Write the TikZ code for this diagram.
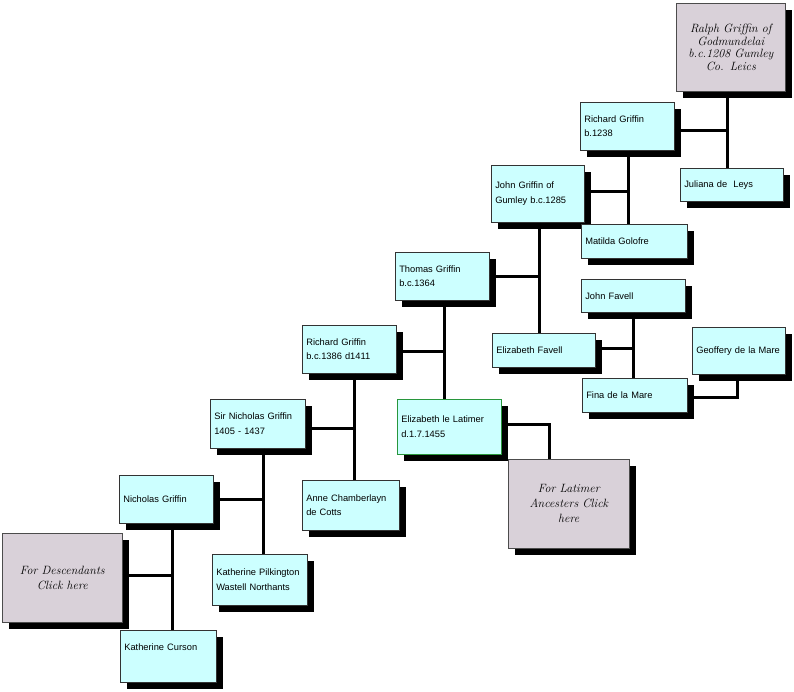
\documentclass[tikz,border=0pt]{standalone}
\usepackage{fontspec}
\usepackage{xcolor}
\usetikzlibrary{shadows}
\newfontfamily\boxfont{Liberation Sans}

\definecolor{boxcyan}{RGB}{204,255,255}
\definecolor{boxgrey}{RGB}{217,209,217}
\definecolor{latgreen}{RGB}{40,150,60}

\tikzset{
  person/.style={draw=black!80, line width=0.6pt, fill=boxcyan, anchor=north west,
    align=left, inner xsep=4pt, font=\boxfont\fontsize{9.3}{14.5}\selectfont,
    text width=#1, drop shadow={shadow xshift=7pt, shadow yshift=-7pt, fill=black, opacity=1}},
  linkbox/.style={draw=black!70, line width=0.6pt, fill=boxgrey, anchor=north west,
    align=center, inner xsep=2pt, font=\itshape\fontsize{12}{15}\selectfont,
    text width=#1, drop shadow={shadow xshift=7pt, shadow yshift=-7pt, fill=black, opacity=1}},
  famline/.style={line width=3pt}
}

\begin{document}
\begin{tikzpicture}[x=1pt, y=-1pt]
\useasboundingbox (0,0) rectangle (794,692);

 %boxes:
 \node[linkbox=104pt, minimum width=109pt, minimum height=88pt] (ralph) at (676,3)
   {Ralph Griffin of\\[-2.5pt] Godmundelai\\[-2.5pt] b.c.1208 Gumley\\[-2.5pt] Co. Leics};
 \node[person=86pt, minimum width=94pt, minimum height=48pt] (richardA) at (580,102) {Richard Griffin\\ b.1238};
 \node[person=95pt, minimum width=103pt, minimum height=33pt] (juliana) at (680,168) {Juliana de\ \ Leys};
 \node[person=85pt, minimum width=93pt, minimum height=57pt] (john) at (491,165) {John Griffin of\\ Gumley\ b.c.1285};
 \node[person=98pt, minimum width=106pt, minimum height=34pt] (matilda) at (581,224) {Matilda Golofre};
 \node[person=86pt, minimum width=94pt, minimum height=48pt] (thomas) at (395,252) {Thomas Griffin\\ b.c.1364};
 \node[person=95pt, minimum width=103pt, minimum height=34pt] (elizfavell) at (492,333) {Elizabeth Favell};
 \node[person=96pt, minimum width=104pt, minimum height=33pt] (johnfavell) at (581,279) {John Favell};
 \node[person=97pt, minimum width=105pt, minimum height=34pt] (fina) at (582,378) {Fina de la Mare};
 \node[person=85pt, minimum width=93pt, minimum height=47pt] (geoffery) at (692,327) {Geoffery de la Mare};
 \node[person=86pt, minimum width=94pt, minimum height=48pt] (richardB) at (302,325) {Richard Griffin\\ b.c.1386 d1411};
 \node[person=96pt, minimum width=104pt, minimum height=55pt, draw=latgreen] (latimer) at (397,399) {Elizabeth le Latimer\\ d.1.7.1455};
 \node[linkbox=115pt, minimum width=121pt, minimum height=89pt] (latlink) at (508,459)
   {For Latimer\\ Ancesters Click\\ here};
 \node[person=87pt, minimum width=95pt, minimum height=49pt] (sirnicholas) at (210,399) {Sir Nicholas Griffin\\ 1405 - 1437};
 \node[person=89pt, minimum width=97pt, minimum height=50pt] (anne) at (302,480) {Anne Chamberlayn\\ de Cotts};
 \node[person=86pt, minimum width=94pt, minimum height=48pt] (nicholas) at (119,475) {Nicholas Griffin};
 \node[person=87pt, minimum width=95pt, minimum height=51pt] (pilkington) at (212,554) {Katherine Pilkington\\ Wastell Northants};
 \node[linkbox=115pt, minimum width=120pt, minimum height=89pt] (descend) at (2,533)
   {For Descendants\\ Click here};
 \node[person=88pt, minimum width=96pt, minimum height=52pt, text depth=18pt] (curson) at (120,630) {Katherine Curson};

 %junctions
 \coordinate (m1) at (727,131);
 \coordinate (m2) at (628,192);
 \coordinate (m3) at (539,277);
 \coordinate (m4) at (633,348);
 \coordinate (m5) at (737,397);
 \coordinate (m6) at (444,351);
 \coordinate (m7) at (549,424);
 \coordinate (m8) at (354,428);
 \coordinate (m9) at (263,499);
 \coordinate (m10) at (172,575);

 %family lines
 \draw[famline] (ralph.south -| m1) -- (juliana.north -| m1);
 \draw[famline] (richardA.east |- m1) -- (m1);
 \draw[famline] (richardA.south -| m2) -- (matilda.north -| m2);
 \draw[famline] (john.east |- m2) -- (m2);
 \draw[famline] (john.south -| m3) -- (elizfavell.north -| m3);
 \draw[famline] (thomas.east |- m3) -- (m3);
 \draw[famline] (johnfavell.south -| m4) -- (fina.north -| m4);
 \draw[famline] (elizfavell.east |- m4) -- (m4);
 \draw[famline] (geoffery.south -| m5) -- (m5) -- (fina.east |- m5);
 \draw[famline] (thomas.south -| m6) -- (latimer.north -| m6);
 \draw[famline] (richardB.east |- m6) -- (m6);
 \draw[famline] (latimer.east |- m7) -- (m7) -- (latlink.north -| m7);
 \draw[famline] (richardB.south -| m8) -- (anne.north -| m8);
 \draw[famline] (sirnicholas.east |- m8) -- (m8);
 \draw[famline] (sirnicholas.south -| m9) -- (pilkington.north -| m9);
 \draw[famline] (nicholas.east |- m9) -- (m9);
 \draw[famline] (nicholas.south -| m10) -- (curson.north -| m10);
 \draw[famline] (descend.east |- m10) -- (m10);
\end{tikzpicture}
\end{document}
